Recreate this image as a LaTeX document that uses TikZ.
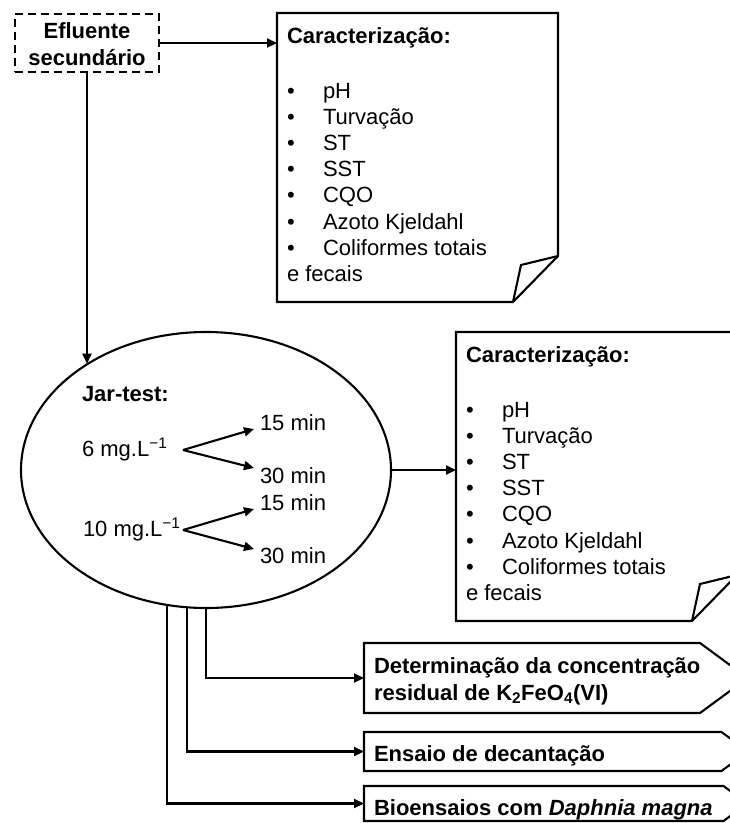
\documentclass[tikz,border=0pt]{standalone}
\usepackage{fontspec}
\setmainfont{Liberation Sans}
\usetikzlibrary{arrows.meta,calc,shapes.geometric}

\newcommand\basefont{\fontsize{22pt}{26pt}\selectfont}

\tikzset{
  ln/.style={line width=2.1pt},
  arr/.style={ln, -{Triangle[length=10pt,width=9pt]}},
  txt/.style={anchor=base west, inner sep=0pt, outer sep=0pt, font=\basefont},
  btxt/.style={txt, font=\basefont\bfseries},
  frame/.style={inner sep=0pt, outer sep=0pt, anchor=north west},
}

% note sheet with a folded lower right corner and a list of parameters
\newcommand\charbox[3]{%
  \node[frame, minimum width=281pt, minimum height=289pt] (#1) at (#2,#3) {};
  \draw[ln, fill=white] (#1.north west) -- (#1.north east)
    -- ($(#1.south east)+(0,-46)$) -- ($(#1.south east)+(-45,0)$)
    -- (#1.south west) -- cycle;
  \draw[ln] ($(#1.south east)+(0,-46)$) -- ($(#1.south east)+(-37,-37)$)
    -- ($(#1.south east)+(-45,0)$);
  \node[btxt] (#1-title) at ($(#1.north west)+(10,30)$) {Caracterização:};
  \foreach \lbl [count=\i] in {pH, Turvação, ST, SST, CQO, Azoto Kjeldahl, Coliformes totais} {
    \node[txt] (#1-b\i) at ($(#1.north west)+(10,{85+(\i-1)*26.2})$) {•};
    \node[txt] (#1-i\i) at ($(#1.north west)+(46,{85+(\i-1)*26.2})$) {\lbl};
  }
  \node[txt] (#1-end) at ($(#1.north west)+(10,{85+7*26.2})$) {e fecais};
}

% arrow-shaped box pointing right
\newcommand\pentbox[5]{% name, left, top, body width, height
  \node[frame, minimum width=#4pt, minimum height=#5pt] (#1) at (#2,#3) {};
  \draw[ln] (#1.north west) -- (#1.north east) -- ($(#1.east)+({0.68*#5},0)$)
    -- (#1.south east) -- (#1.south west) -- cycle;
}

\begin{document}
\begin{tikzpicture}[x=1pt, y=-1pt]
  \useasboundingbox (0,0) rectangle (730,823);
  \fill[white] (0,0) rectangle (730,823);
  \clip (0,0) rectangle (730,823);

  % source
  \node[draw, ln, dash pattern=on 8pt off 5pt, minimum width=144pt,
        minimum height=58pt, inner sep=0pt, outer sep=0pt] (eff) at (87,43) {};
  \node[btxt, anchor=base] (eff-a) at (87,38) {Efluente};
  \node[btxt, anchor=base] (eff-b) at (87,65) {secundário};

  % characterisation sheets
  \charbox{char1}{277}{13}
  \charbox{char2}{456}{332}

  % jar test
  \node[draw, ln, ellipse, minimum width=370pt, minimum height=276pt,
        inner sep=0pt, outer sep=0pt] (ell) at (206,470) {};
  \node[btxt] (jar) at (82,401) {Jar-test:};
  \node[txt] (c6) at (82,456) {6 mg.L\textsuperscript{−1}};
  \node[txt] (c10) at (83,536) {10 mg.L\textsuperscript{−1}};
  \node[txt] (m1) at (260,430) {15 min};
  \node[txt] (m2) at (260,483) {30 min};
  \node[txt] (m3) at (260,510) {15 min};
  \node[txt] (m4) at (260,563) {30 min};
  \coordinate (f6) at (183,450);
  \coordinate (f10) at (183,530);
  \coordinate (h1) at (254,429);
  \coordinate (h2) at (254,468);
  \coordinate (h3) at (254,509);
  \coordinate (h4) at (254,549);
  \draw[arr] (f6) -- (h1);
  \draw[arr] (f6) -- (h2);
  \draw[arr] (f10) -- (h3);
  \draw[arr] (f10) -- (h4);

  % follow-up analyses
  \pentbox{p1}{364}{643}{336}{70}
  \pentbox{p2}{364}{732}{357.5}{39}
  \pentbox{p3}{364}{786}{359.5}{35}
  \node[btxt] (p1-a) at (374,673) {Determinação da concentração};
  \node[btxt] (p1-b) at (374,700) {residual de K\textsubscript{2}FeO\textsubscript{4}(VI)};
  \node[btxt] (p2-a) at (374,761) {Ensaio de decantação};
  \node[btxt] (p3-a) at (374,815) {Bioensaios com \textit{Daphnia magna}};

  % connectors
  \draw[arr] (eff.east) -- (eff.east -| char1.west);
  \draw[arr] (eff.south) -- (eff.south |- ell.138.4);
  \draw[arr] (ell.east) -- (ell.east -| char2.west);
  \draw[arr] (ell.south) |- (p1.west);
  \draw[arr] (ell.262.12) |- (p2.west);
  \draw[arr] (ell.254.29) |- (p3.west);
\end{tikzpicture}
\end{document}
